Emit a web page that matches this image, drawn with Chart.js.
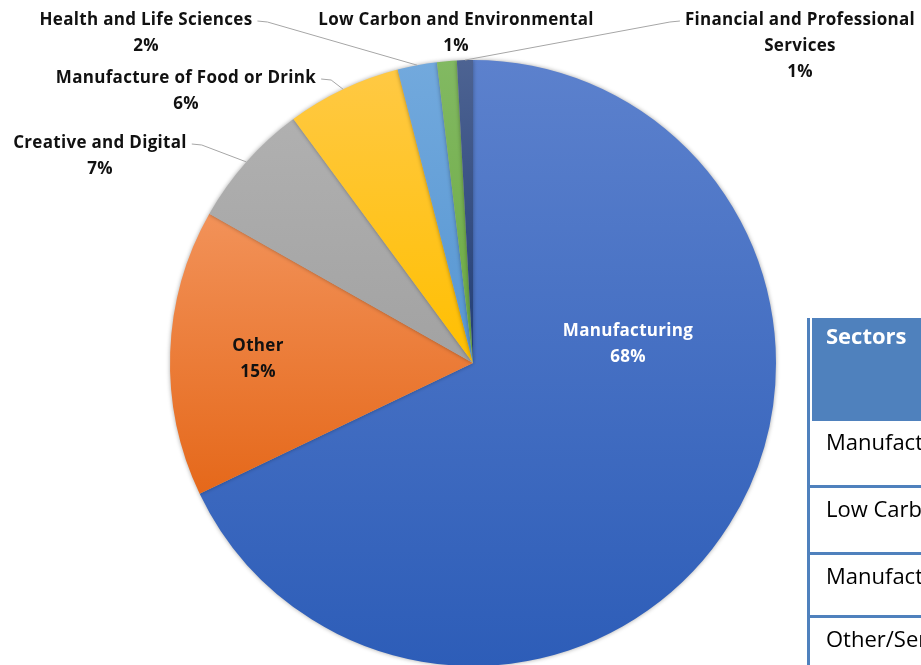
<!DOCTYPE html>
<html>
<head>
<meta charset="utf-8">
<script src="https://cdn.jsdelivr.net/npm/chart.js@4"></script>
<style>
  html, body { margin: 0; padding: 0; background: #fff; overflow: hidden; width: 921px; height: 665px; }
  #wrap { position: absolute; left: 0; top: 0; width: 921px; height: 730px; }
  #sectors { position: absolute; left: 807px; top: 318px; width: 300px; border-collapse: collapse;
    font-family: "Open Sans", sans-serif; font-size: 22px; }
  #sectors th { background: #4f81bd; color: #fff; text-align: left; font-weight: bold; height: 103px;
    vertical-align: top; padding: 0 0 0 16px; border-left: 3px solid #4f81bd; box-shadow: inset 2px 0 0 #fff;
    font-size: 22px; line-height: 34px; }
  #sectors td { text-align: left; vertical-align: top; padding: 3px 0 0 16px; border-left: 3px solid #4f81bd;
    border-bottom: 3px solid #4f81bd; white-space: nowrap; color: #000; line-height: 34px; }
</style>
</head>
<body>
<div id="wrap"><canvas id="pie" width="921" height="730"></canvas></div>
<table id="sectors">
  <tr><th>Sectors</th></tr>
  <tr><td style="height:61px">Manufacturing</td></tr>
  <tr><td style="height:61px">Low Carbon and Environmental</td></tr>
  <tr><td style="height:57px">Manufacture of Food or Drink</td></tr>
  <tr><td style="height:60px">Other/Services</td></tr>
</table>
<script>
const sectors = ['Manufacturing', 'Other', 'Creative and Digital', 'Manufacture of Food or Drink',
  'Health and Life Sciences', 'Low Carbon and Environmental', 'Financial and Professional Services'];
const shares = [67.9, 15.3, 6.7, 6.1, 2.1, 1.05, 0.85];

// colour per slice: light (top of slice) and dark (bottom of slice)
const lightColors = ['#5c81cd', '#f29259', '#b0b0b0', '#ffc944', '#72a9dd', '#82b962', '#4d6392'];
const darkColors  = ['#2d5db8', '#e5681a', '#a2a2a2', '#ffbf00', '#5696d2', '#6ba941', '#213d75'];

// label text lines and where each block sits, relative to the pie centre
const labelLines = [['Manufacturing'], ['Other'], ['Creative and Digital'], ['Manufacture of Food or Drink'],
  ['Health and Life Sciences'], ['Low Carbon and Environmental'], ['Financial and Professional', 'Services']];
const labelOffsets = [[155, -19], [-215, -4], [-373, -207], [-287, -272], [-327, -330], [-17, -330], [327, -317]];
const leaderSide = [null, null, 'right', 'right', 'right', null, 'left'];

const labelFont = 'bold 17px "Open Sans", sans-serif';

// vertical extent of slice i, so every slice gets its own top-to-bottom gradient
function sliceYRange(area, i) {
  const total = shares.reduce((a, b) => a + b, 0);
  const cy = (area.top + area.bottom) / 2;
  const r = Math.min(area.right - area.left, area.bottom - area.top) / 2;
  let a0 = -Math.PI / 2;
  for (let k = 0; k < i; k++) a0 += shares[k] / total * Math.PI * 2;
  const a1 = a0 + shares[i] / total * Math.PI * 2;
  const ys = [cy, cy + Math.sin(a0) * r, cy + Math.sin(a1) * r];
  [Math.PI / 2, Math.PI * 1.5, Math.PI * 2.5].forEach(a => { if (a > a0 && a < a1) ys.push(cy + Math.sin(a) * r); });
  return [Math.min(...ys), Math.max(...ys)];
}

function sliceGradient(ctx, i) {
  const chart = ctx.chart;
  const area = chart.chartArea;
  if (!area) return darkColors[i];
  const [y0, y1] = sliceYRange(area, i);
  const g = chart.ctx.createLinearGradient(0, y0, 0, y1);
  g.addColorStop(0, lightColors[i]);
  g.addColorStop(1, darkColors[i]);
  return g;
}

const shadowPlugin = {
  id: 'shadow',
  beforeDatasetsDraw(chart) {
    chart.ctx.save();
    chart.ctx.shadowColor = 'rgba(0,0,0,0.35)';
    chart.ctx.shadowBlur = 4;
  },
  afterDatasetsDraw(chart) {
    chart.ctx.restore();
  }
};

const labelPlugin = {
  id: 'sliceLabels',
  afterDraw(chart) {
    const ctx = chart.ctx;
    const meta = chart.getDatasetMeta(0);
    const total = shares.reduce((a, b) => a + b, 0);
    ctx.save();
    ctx.font = labelFont;
    ctx.letterSpacing = '0.3px';
    ctx.textAlign = 'center';
    ctx.textBaseline = 'middle';
    const lineH = 26;
    meta.data.forEach((arc, i) => {
      const lines = labelLines[i].concat([Math.round(shares[i] / total * 100) + '%']);
      const cx = arc.x + labelOffsets[i][0];
      const cy = arc.y + labelOffsets[i][1];
      const top = cy - (lines.length - 1) * lineH / 2;
      // leader line from the text to the middle of the slice's rim
      if (leaderSide[i]) {
        const mid = (arc.startAngle + arc.endAngle) / 2;
        const ex = arc.x + Math.cos(mid) * arc.outerRadius;
        const ey = arc.y + Math.sin(mid) * arc.outerRadius;
        const w = ctx.measureText(lines[0]).width;
        const dir = leaderSide[i] === 'right' ? 1 : -1;
        const sx = cx + dir * (w / 2 + 5);
        ctx.strokeStyle = '#a6a6a6';
        ctx.lineWidth = 1;
        ctx.beginPath();
        ctx.moveTo(sx, top + 1);
        ctx.lineTo(sx + dir * 10, top + 2);
        ctx.lineTo(ex, ey);
        ctx.stroke();
      }
      ctx.fillStyle = i === 0 ? '#ffffff' : '#111111';
      lines.forEach((t, k) => ctx.fillText(t, cx, top + k * lineH));
    });
    ctx.restore();
  }
};

new Chart(document.getElementById('pie'), {
  type: 'pie',
  data: {
    labels: sectors,
    datasets: [{
      data: shares,
      backgroundColor: ctx => sliceGradient(ctx, ctx.dataIndex),
      borderWidth: 0
    }]
  },
  options: {
    responsive: false,
    animation: false,
    layout: { padding: { left: 170, right: 145, top: 60, bottom: 64 } },
    plugins: { legend: { display: false }, tooltip: { enabled: false } }
  },
  plugins: [shadowPlugin, labelPlugin]
});
</script>
</body>
</html>
